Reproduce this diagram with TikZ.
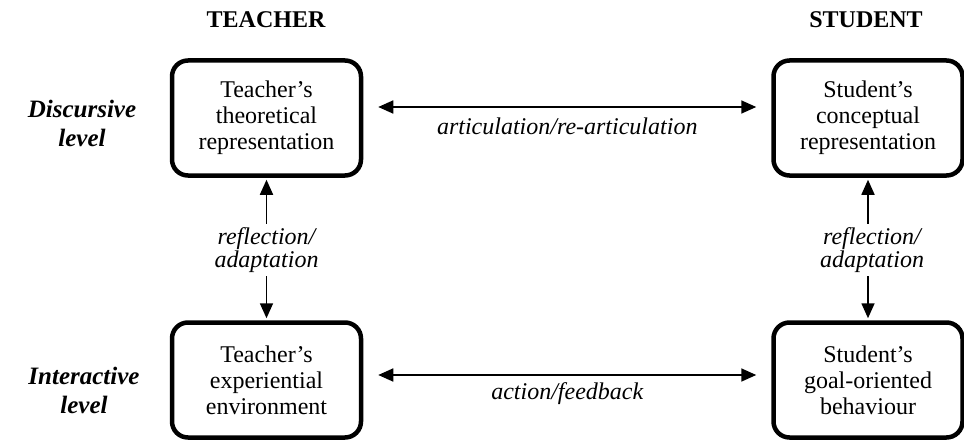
\documentclass[tikz,border=0pt]{standalone}
\usepackage{fontspec}
\setmainfont{Liberation Serif}
\usetikzlibrary{arrows.meta,calc}
\begin{document}
\begin{tikzpicture}[x=1pt,y=-1pt,
  every node/.style={font=\fontsize{24}{26}\selectfont},
  roundbox/.style={draw, line width=4.5pt, rounded corners=16pt,
    minimum width=189pt, minimum height=115pt, align=center, inner sep=0pt},
  head/.style={font=\fontsize{24}{26}\selectfont\bfseries},
  levellabel/.style={font=\fontsize{25}{29}\selectfont\bfseries\itshape, align=center},
  linklabel/.style={font=\fontsize{24}{23}\selectfont\itshape, align=center},
  link/.style={line width=1.7pt, {Triangle[length=15pt,width=13pt]}-{Triangle[length=15pt,width=13pt]}}]
  \useasboundingbox (0,0) rectangle (964,444);

  % column headings
  \node[head] (teacherhead) at (266,20) {TEACHER};
  \node[head] (studenthead) at (866,20) {STUDENT};

  % row headings
  \node[levellabel] (disc) at (82,123) {Discursive\\level};
  \node[levellabel] (inter) at (84,390) {Interactive\\level};

  % the four representations
  \node[roundbox] (ttheo) at (266.5,118) {Teacher’s\\theoretical\\representation};
  \node[roundbox] (sconc) at (868,118) {Student’s\\conceptual\\representation};
  \node[roundbox] (tenv)  at (266.5,380) {Teacher’s\\experiential\\environment};
  \node[roundbox] (sgoal) at (868,380) {Student’s\\goal-oriented\\behaviour};

  % horizontal links
  \coordinate (a1) at ($(ttheo.east)+(15,-11)$);
  \coordinate (a2) at ($(sconc.west)+(-15,-11)$);
  \draw[link] (a1) -- (a2);
  \node[linklabel] (artic) at ($(a1)!0.5!(a2)+(0,19)$) {articulation/re-articulation};

  \coordinate (b1) at ($(tenv.east)+(15,-5)$);
  \coordinate (b2) at ($(sgoal.west)+(-15,-5)$);
  \draw[link] (b1) -- (b2);
  \node[linklabel] (actfb) at ($(b1)!0.5!(b2)+(0,19)$) {action/feedback};

  % vertical links
  \draw[link] ($(ttheo.south)+(0,2)$) -- ($(tenv.north)+(0,-2)$);
  \node[linklabel, fill=white, inner sep=3pt] (trefl) at (266.5,250) {reflection/\\adaptation};
  \draw[link] ($(sconc.south)+(0,2)$) -- ($(sgoal.north)+(0,-2)$);
  \node[linklabel, fill=white, inner sep=3pt] (srefl) at (872,250) {reflection/\\adaptation};
\end{tikzpicture}
\end{document}
